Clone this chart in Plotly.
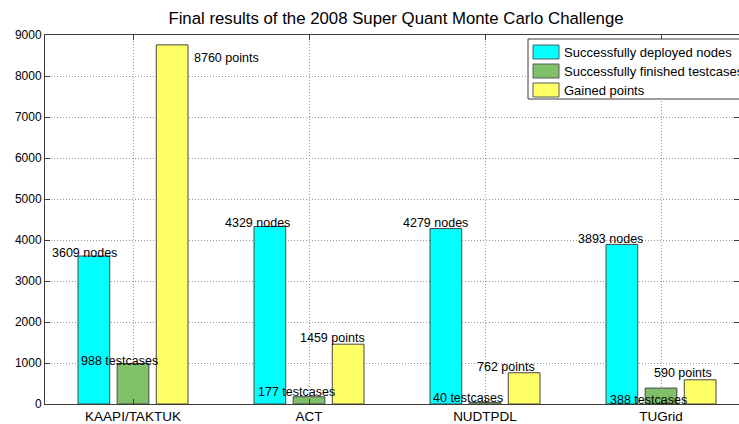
import plotly.graph_objects as go

categories = ["KAAPI/TAKTUK", "ACT", "NUDTPDL", "TUGrid"]
series_names = ["Successfully deployed nodes", "Successfully finished testcases", "Gained points"]
nodes = [3609, 4329, 4279, 3893]
testcases = [988, 177, 40, 388]
points = [8760, 1459, 762, 590]
units = ["nodes", "testcases", "points"]
y_ticks = [0, 1000, 2000, 3000, 4000, 5000, 6000, 7000, 8000, 9000]

colors = ["rgb(0,255,255)", "rgb(128,192,104)", "rgb(255,255,102)"]
edge = "rgb(70,70,70)"
FONT = "Liberation Sans"

W, H = 739, 424
ML, MT, MB, MR = 45, 35, 20, 0

fig = go.Figure()
series = [nodes, testcases, points]
xi = list(range(len(categories)))
for name, vals, col in zip(series_names, series, colors):
    fig.add_trace(go.Bar(x=xi, y=vals, name=name, marker=dict(color=col, line=dict(color=edge, width=1)),
                         showlegend=False))

# label shifts (pixels) per series/category
group_off = [-0.222, 0.0, 0.222]
xshifts = [
    [-9, -12, -10, -11],
    [-14, -13, -17, -13],
    [54, -16, -18, -17],
]
yshifts = [
    [3, 3.5, 5.5, 5.5],
    [2, 4.5, 4.5, -12],
    [-13, 6, 5.5, 6.5],
]
for s, (vals, unit) in enumerate(zip(series, units)):
    for c, v in enumerate(vals):
        fig.add_annotation(x=c + group_off[s], y=v, xref="x", yref="y",
                           text=f"{v} {unit}", showarrow=False,
                           xanchor="center", yanchor="middle",
                           xshift=xshifts[s][c], yshift=yshifts[s][c],
                           font=dict(family=FONT, size=12.5, color="black"))

# manual legend
pw = W - ML - MR
ph = H - MT - MB
def px(xp):
    return (xp - ML) / pw
def py(yp):
    return 1 - (yp - MT) / ph

fig.add_shape(type="rect", xref="paper", yref="paper", x0=px(528), x1=px(760), y0=py(99), y1=py(39),
              line=dict(color="rgb(60,60,60)", width=1), fillcolor="white", layer="above")
row_y = [52, 71, 90]
for name, col, ry in zip(series_names, colors, row_y):
    fig.add_shape(type="rect", xref="paper", yref="paper", x0=px(533), x1=px(559), y0=py(ry + 7), y1=py(ry - 7),
                  line=dict(color="rgb(90,90,90)", width=1), fillcolor=col, layer="above")
    fig.add_annotation(x=px(562), y=py(ry), xref="paper", yref="paper", text=name, showarrow=False,
                       xanchor="left", yanchor="middle", font=dict(family=FONT, size=13, color="black"))

fig.update_layout(
    width=W, height=H,
    margin=dict(l=ML, r=MR, t=MT, b=MB, pad=0, autoexpand=False),
    paper_bgcolor="white", plot_bgcolor="white",
    barmode="group", bargap=0.333, bargroupgap=0.19,
    title=dict(text="Final results of the 2008 Super Quant Monte Carlo Challenge",
               xref="paper", x=px(396), xanchor="center", y=1 - 18 / H, yanchor="middle",
               font=dict(family=FONT, size=16.8, color="black")),
    font=dict(family=FONT, color="black"),
    xaxis=dict(range=[-0.5, -0.5 + pw / 176.0], tickmode="array", tickvals=xi, ticktext=categories,
               showgrid=True, gridcolor="rgb(150,150,150)", griddash="1px,2px", gridwidth=1,
               ticks="inside", ticklen=5, tickcolor="rgb(60,60,60)",
               automargin=False,
               showline=True, linecolor="rgb(60,60,60)", linewidth=1, mirror="ticks",
               tickfont=dict(family=FONT, size=13.5, color="black"), zeroline=False),
    yaxis=dict(range=[0, 9000], tickmode="array", tickvals=y_ticks, ticktext=[str(t) for t in y_ticks],
               showgrid=True, gridcolor="rgb(150,150,150)", griddash="1px,2px", gridwidth=1,
               ticks="inside", ticklen=5, tickcolor="rgb(60,60,60)", automargin=False,
               showline=True, linecolor="rgb(60,60,60)", linewidth=1, mirror="ticks",
               tickfont=dict(family=FONT, size=12, color="black"), zeroline=False),
)

fig.write_html("out.html", config={"displayModeBar": False},
               post_script="document.body.style.margin='0';document.body.style.overflow='hidden';")
